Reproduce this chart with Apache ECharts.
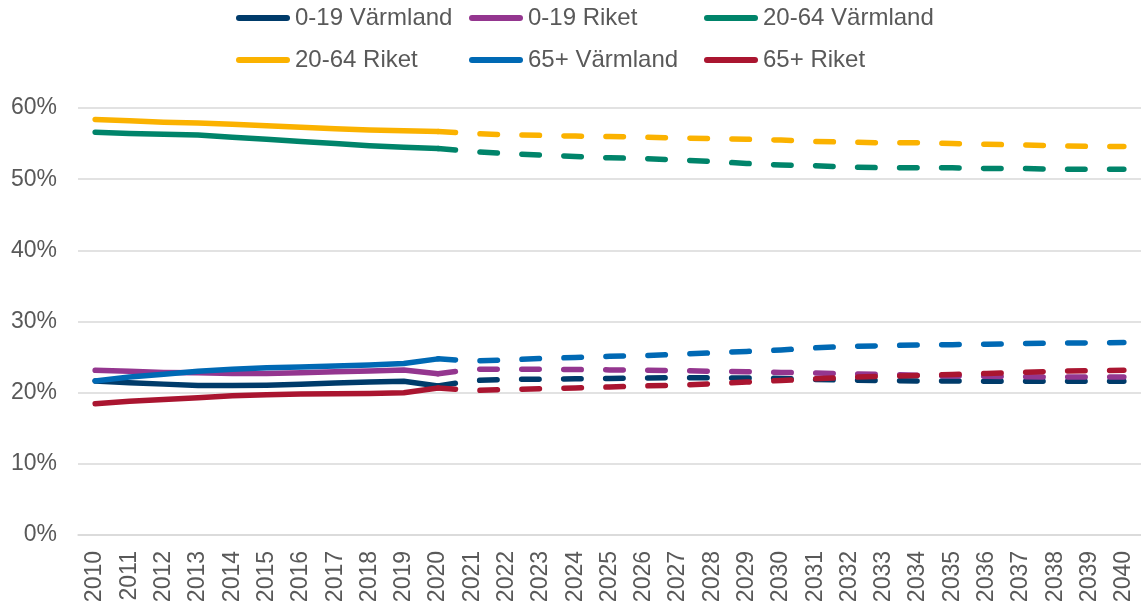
<html>
<head>
    <meta charset="utf-8">
    <title>Befolkning efter ålder</title>
    <style type="text/css">
        body { margin: 0; background: #fff; }
        #chart { width: 1141px; height: 607px; }
    </style>
</head>
<body>
    <div id="chart"></div>
</body>
</html>

<script src="https://cdn.jsdelivr.net/npm/echarts@6/dist/echarts.min.js"></script>
<script>

    var years = ['2010', '2011', '2012', '2013', '2014', '2015', '2016', '2017', '2018', '2019', '2020',
        '2021', '2022', '2023', '2024', '2025', '2026', '2027', '2028', '2029', '2030',
        '2031', '2032', '2033', '2034', '2035', '2036', '2037', '2038', '2039', '2040'];

    var yTicks = [0, 10, 20, 30, 40, 50, 60];

    // utfall 2010-2020
    var varmland0_19 = [21.65, 21.4, 21.2, 21.0, 21.0, 21.05, 21.2, 21.35, 21.5, 21.6, 20.95];
    var riket0_19 = [23.15, 23.0, 22.85, 22.8, 22.7, 22.7, 22.8, 22.95, 23.05, 23.2, 22.65];
    var varmland20_64 = [56.6, 56.4, 56.3, 56.2, 55.9, 55.6, 55.3, 55.0, 54.7, 54.5, 54.3];
    var riket20_64 = [58.4, 58.2, 58.0, 57.9, 57.7, 57.5, 57.3, 57.1, 56.9, 56.8, 56.7];
    var varmland65 = [21.65, 22.2, 22.6, 23.0, 23.3, 23.5, 23.6, 23.75, 23.9, 24.1, 24.75];
    var riket65 = [18.45, 18.8, 19.05, 19.3, 19.55, 19.7, 19.8, 19.85, 19.9, 20.0, 20.65];

    // prognos 2020-2040
    var varmland0_19P = [20.95, 21.7, 21.85, 21.9, 21.95, 22.0, 22.05, 22.1, 22.1, 22.05, 22.0, 21.85, 21.75, 21.7, 21.65, 21.65, 21.6, 21.6, 21.6, 21.6, 21.6];
    var riket0_19P = [22.65, 23.3, 23.3, 23.3, 23.25, 23.2, 23.15, 23.1, 23.0, 22.95, 22.85, 22.75, 22.65, 22.55, 22.45, 22.35, 22.3, 22.25, 22.2, 22.2, 22.2];
    var varmland20_64P = [54.3, 53.9, 53.6, 53.4, 53.2, 53.0, 52.9, 52.7, 52.5, 52.2, 52.0, 51.9, 51.7, 51.6, 51.6, 51.6, 51.5, 51.5, 51.4, 51.4, 51.4];
    var riket20_64P = [56.7, 56.4, 56.25, 56.15, 56.05, 56.0, 55.9, 55.8, 55.7, 55.6, 55.5, 55.3, 55.2, 55.1, 55.1, 55.0, 54.9, 54.8, 54.7, 54.6, 54.6];
    var varmland65P = [24.75, 24.45, 24.6, 24.8, 24.95, 25.1, 25.2, 25.4, 25.6, 25.8, 26.0, 26.3, 26.5, 26.6, 26.7, 26.75, 26.8, 26.9, 26.95, 27.0, 27.05];
    var riket65P = [20.65, 20.3, 20.45, 20.55, 20.65, 20.8, 20.95, 21.05, 21.25, 21.5, 21.7, 21.95, 22.15, 22.3, 22.4, 22.55, 22.7, 22.85, 23.0, 23.1, 23.15];

    var names = ['0-19 Värmland', '0-19 Riket', '20-64 Värmland', '20-64 Riket', '65+ Värmland', '65+ Riket'];
    var colors = ['#003B6A', '#94368F', '#00846A', '#FBB200', '#0069B4', '#AA1530'];
    var hist = [varmland0_19, riket0_19, varmland20_64, riket20_64, varmland65, riket65];
    var proj = [varmland0_19P, riket0_19P, varmland20_64P, riket20_64P, varmland65P, riket65P];

    var font = 'Liberation Sans, Arial, sans-serif';
    var grey = '#595959';

    function padded(values, start) {
        var out = [];
        for (var i = 0; i < years.length; i++) {
            var j = i - start;
            out.push(j >= 0 && j < values.length ? values[j] : null);
        }
        return out;
    }

    var series = [];
    for (var i = 0; i < names.length; i++) {
        series.push({
            name: names[i],
            type: 'line',
            symbol: 'none',
            data: padded(hist[i], 0),
            z: 2 + i,
            lineStyle: { color: colors[i], width: 5.5, cap: 'round', join: 'round' },
            itemStyle: { color: colors[i] }
        });
    }
    for (var i = 0; i < names.length; i++) {
        series.push({
            name: names[i] + ' prognos',
            type: 'line',
            symbol: 'none',
            data: padded(proj[i], 10),
            z: 2 + i,
            lineStyle: { color: colors[i], width: 5.5, cap: 'round', join: 'round', type: [17.5, 24.5] },
            itemStyle: { color: colors[i] }
        });
    }

    // legend laid out as a 3x2 grid like the original
    var legendPos = [[236, 6], [469, 6], [704, 6], [236, 48], [469, 48], [704, 48]];
    var legends = [];
    for (var i = 0; i < names.length; i++) {
        legends.push({
            data: [names[i]],
            left: legendPos[i][0],
            top: legendPos[i][1],
            padding: 0,
            itemWidth: 54,
            itemHeight: 6,
            icon: 'path://M3,0 H51 A3,3 0 0 1 51,6 H3 A3,3 0 0 1 3,0 Z',
            selectedMode: false,
            textStyle: { fontFamily: font, fontSize: 24, color: grey }
        });
    }

    var option = {
        animation: false,
        backgroundColor: '#fff',
        legend: legends,
        grid: { left: 78, top: 108, width: 1065, height: 427, containLabel: false },
        xAxis: {
            type: 'category',
            data: years,
            boundaryGap: true,
            axisLine: { lineStyle: { color: '#d9d9d9', width: 1.5 } },
            axisTick: { show: false },
            axisLabel: {
                rotate: 90,
                margin: 16,
                interval: 0,
                fontFamily: font,
                fontSize: 23,
                color: grey
            }
        },
        yAxis: {
            type: 'value',
            min: yTicks[0],
            max: yTicks[yTicks.length - 1],
            interval: 10,
            axisLine: { show: false },
            axisTick: { show: false },
            splitLine: { lineStyle: { color: '#d9d9d9', width: 1.5 } },
            axisLabel: {
                formatter: '{value}%',
                margin: 21,
                fontFamily: font,
                fontSize: 23,
                color: grey
            }
        },
        series: series
    };

    var chart = echarts.init(document.getElementById('chart'));
    chart.setOption(option);

</script>
